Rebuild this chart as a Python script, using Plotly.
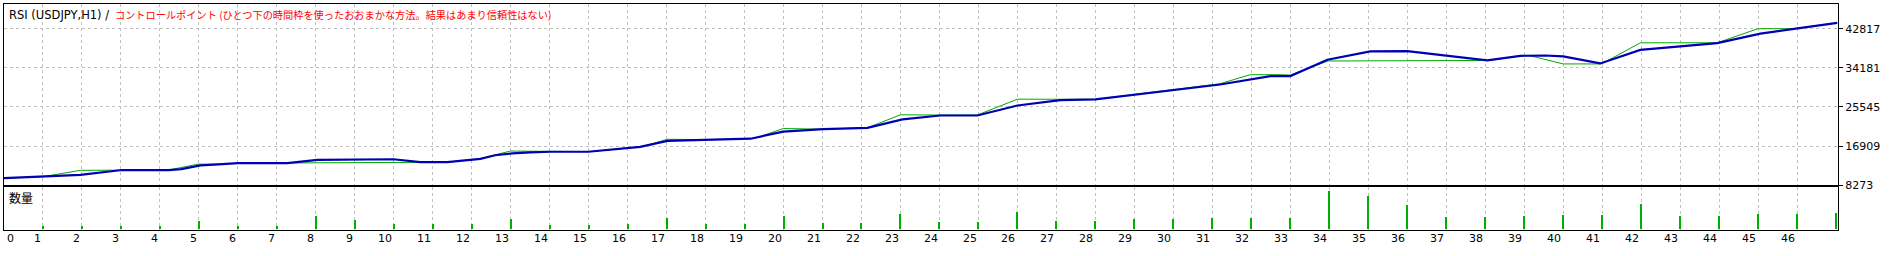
import plotly.graph_objects as go

# ---------------- data ----------------
# balance / equity curves: (trade index, value)
blue_x = [0.0, 1.96, 3.03, 4.22, 4.55, 5.04, 5.5, 6.0, 7.27, 8.04, 9.99, 10.68, 11.37, 12.22,
          12.6, 13.04, 13.5, 14.02, 14.99, 16.32, 17.02, 18.04, 19.15, 19.99, 21.02,
          22.15, 23.05, 24.02, 24.97, 26.0, 27.1, 28.0, 31.2, 32.49, 33.0, 33.95, 35.05, 36.0,
          38.05, 38.9, 39.54, 40.0, 40.95, 41.98, 43.95, 45.06, 47.03]
blue_y = [9849, 10562, 11641, 11641, 11850, 12656, 12872, 13152, 13152, 13886, 14016, 13368, 13368, 14102,
          14900, 15311, 15530, 15678, 15678, 16758, 18053, 18334, 18550, 20104, 20644,
          20925, 22803, 23667, 23667, 25869, 27056, 27229, 30511, 32367, 32367, 35973, 37808, 37851,
          35822, 36837, 36901, 36729, 35150, 38132, 39643, 41738, 44100]

green_x = [0.0, 1.01, 1.96, 2.78, 3.03, 4.22, 4.98, 5.5, 6.0, 7.27, 10.5, 10.68, 11.37, 12.22,
           12.42, 12.99, 14.02, 14.99, 16.32, 16.5, 17.02, 17.53, 18.04, 19.15, 19.33, 19.99,
           20.68, 21.02, 22.15, 23.0, 24.02, 24.97, 26.0, 27.48, 28.0, 31.2, 31.97, 32.74, 33.0,
           33.97, 37.95, 38.13, 38.9, 39.16, 40.0, 40.95, 41.03, 41.98, 43.95, 45.0, 45.9, 47.03]
green_y = [9849, 10173, 11576, 11576, 11641, 11641, 12936, 12936, 13152, 13196, 13239, 13368, 13368, 14102,
           14600, 15830, 15700, 15678, 16758, 17103, 18420, 18420, 18334, 18550, 18809, 20795,
           20795, 20644, 20968, 23818, 23775, 23775, 27272, 27272, 27229, 30683, 32670, 32670, 32583,
           35692, 35692, 35822, 36837, 36837, 35045, 35045, 35261, 39708, 39708, 42817, 42817, 44100]

# volume panel (one bar per trade 1..47)
vol_x = list(range(1, 48))
vol_y = [0.37, 0.37, 0.37, 0.37, 0.87, 0.37, 0.37, 1.40, 1.00, 0.50, 0.50, 0.50,
         1.03, 0.43, 0.43, 0.53, 1.17, 0.53, 0.53, 1.37, 0.63, 0.63, 1.53, 0.73, 0.73,
         1.73, 0.83, 0.83, 1.03, 1.03,
         1.17, 1.17, 1.17, 3.97, 3.47, 2.47, 1.27, 1.27, 1.37, 1.47, 1.47, 2.63, 1.37,
         1.37, 1.57, 1.57, 1.67]

y_ticks = [8273, 16909, 25545, 34181, 42817]
y_tick_text = ["8273", "16909", "25545", "34181", "42817"]
x_ticks = list(range(0, 47))
x_tick_text = [str(i) for i in x_ticks]

title_black = "RSI (USDJPY,H1) /"
title_red = "コントロールポイント (ひとつ下の時間枠を使ったおおまかな方法。結果はあまり信頼性はない)"
vol_label = "数量"

# ---------------- layout helpers ----------------
W, H = 1893, 256
XL, XR = 4, 1838
def py(p):
    return (H - p) / H

GRID = "#C0C0C0"
BLUE = "#0000B4"
GREEN = "#00A800"
FONT = "DejaVu Sans"
CJK = "Noto Sans CJK JP"

fig = go.Figure()
fig.add_trace(go.Scatter(x=green_x, y=green_y, mode="lines",
                         line=dict(color=GREEN, width=1), xaxis="x", yaxis="y",
                         hoverinfo="skip", showlegend=False))
fig.add_trace(go.Scatter(x=blue_x, y=blue_y, mode="lines",
                         line=dict(color=BLUE, width=2.2), xaxis="x", yaxis="y",
                         hoverinfo="skip", showlegend=False))
fig.add_trace(go.Bar(x=vol_x, y=vol_y, width=0.03, marker=dict(color="#00B000", line=dict(width=0)),
                     xaxis="x2", yaxis="y2", showlegend=False, hoverinfo="skip"))

xr = [0, (XR - XL) / 38.98]
common_x = dict(domain=[XL / W, XR / W], range=xr, tickvals=list(range(1, 47)),
                showticklabels=False, showgrid=True, gridcolor=GRID, griddash="3px,3px",
                gridwidth=1, showline=True, mirror=True, linecolor="black", linewidth=1,
                zeroline=False, ticks="")

main_top, main_bot = 4.5, 190.5
per_px = (42817 - 8273) / (main_bot - 29.5)
fig.update_layout(
    width=W, height=H, margin=dict(l=0, r=0, t=0, b=0),
    paper_bgcolor="white", plot_bgcolor="white",
    bargap=0,
    xaxis=dict(anchor="y", **common_x),
    xaxis2=dict(anchor="y2", **common_x),
    yaxis=dict(domain=[py(main_bot), py(main_top)],
               range=[8273, 8273 + (main_bot - main_top) * per_px],
               side="right", tickvals=y_ticks, ticktext=y_tick_text,
               ticks="outside", ticklen=4, tickcolor="black", tickwidth=1,
               tickfont=dict(family=FONT, size=11, color="black"),
               showgrid=True, gridcolor=GRID, griddash="3px,3px", gridwidth=1,
               showline=True, mirror=True, linecolor="black", linewidth=1,
               zeroline=False, anchor="x"),
    yaxis2=dict(domain=[py(236), py(192.5)], range=[0, 4.35],
                showgrid=False, showticklabels=False, ticks="",
                showline=True, mirror=True, linecolor="black", linewidth=1,
                zeroline=False, anchor="x2"),
)

ann = []
ann.append(dict(text=title_black, x=7 / W, y=py(15), xref="paper", yref="paper",
                xanchor="left", yanchor="middle", showarrow=False,
                font=dict(family=FONT, size=11.5, color="black")))
ann.append(dict(text=title_red, x=113 / W, y=py(15), xref="paper", yref="paper",
                xanchor="left", yanchor="middle", showarrow=False,
                font=dict(family=CJK, size=10.2, color="#FF0000")))
ann.append(dict(text=vol_label, x=7 / W, y=py(203), xref="paper", yref="paper",
                xanchor="left", yanchor="middle", showarrow=False,
                font=dict(family=CJK, size=12, color="black")))
for v, t in zip(x_ticks, x_tick_text):
    if v == 0:
        ann.append(dict(text=t, x=v, xref="x2", y=py(245.5), yref="paper",
                        xanchor="left", yanchor="middle", xshift=1, showarrow=False,
                        font=dict(family=FONT, size=11, color="black")))
    else:
        ann.append(dict(text=t, x=v, xref="x2", y=py(245.5), yref="paper",
                        xanchor="right", yanchor="middle", xshift=0, showarrow=False,
                        font=dict(family=FONT, size=11, color="black")))
fig.update_layout(annotations=ann)

fig.write_html("out.html")
